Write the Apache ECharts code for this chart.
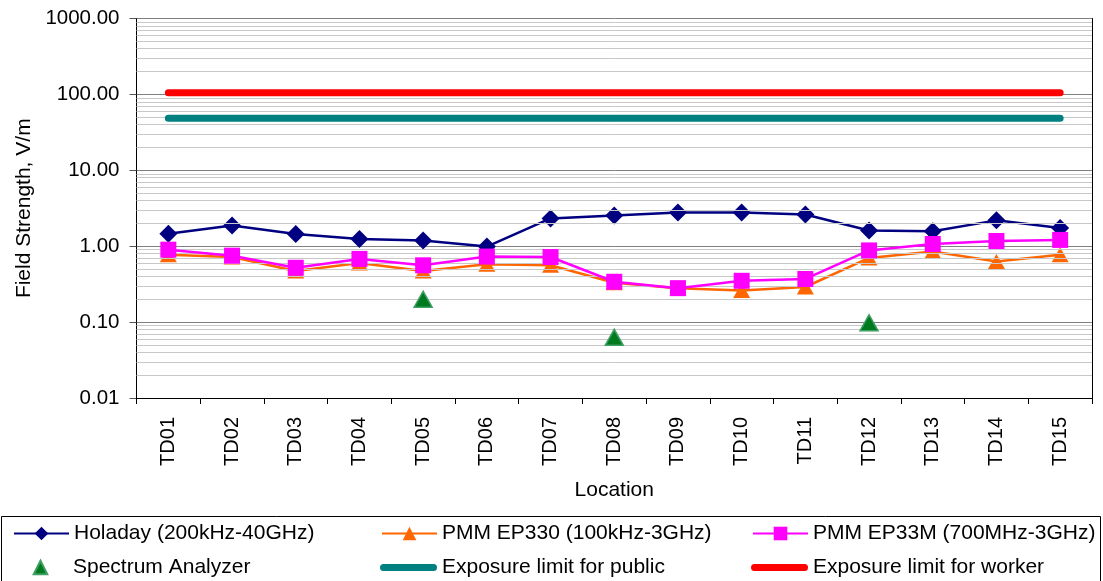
<!DOCTYPE html>
<html>
<head>
<meta charset="utf-8">
<script src="https://cdn.jsdelivr.net/npm/echarts@6/dist/echarts.min.js"></script>
<style>html,body{margin:0;padding:0;background:#fff}#c{width:1103px;height:581px}</style>
</head>
<body>
<div id="c"></div>
<script>
const categories = ['TD01','TD02','TD03','TD04','TD05','TD06','TD07','TD08','TD09','TD10','TD11','TD12','TD13','TD14','TD15'];
const holaday = [1.46,1.88,1.45,1.24,1.19,0.99,2.32,2.54,2.78,2.78,2.62,1.61,1.57,2.19,1.74];
const ep330 = [0.77,0.72,0.47,0.60,0.47,0.58,0.56,0.33,0.28,0.26,0.29,0.70,0.85,0.63,0.77];
const ep33m = [0.90,0.75,0.52,0.68,0.56,0.73,0.72,0.34,0.28,0.35,0.37,0.88,1.07,1.17,1.21];
const spectrum = [null,null,null,null,0.20,null,null,0.063,null,null,null,0.098,null,null,null];
const publicLimit = [48.6,48.6,48.6,48.6,48.6,48.6,48.6,48.6,48.6,48.6,48.6,48.6,48.6,48.6,48.6];
const workerLimit = [105,105,105,105,105,105,105,105,105,105,105,105,105,105,105];
const seriesNames = ['Holaday (200kHz-40GHz)','PMM EP330 (100kHz-3GHz)','PMM EP33M (700MHz-3GHz)','Spectrum Analyzer','Exposure limit for public','Exposure limit for worker'];
const decades = [0.01,0.1,1,10,100];
const minorSteps = [2,3,4,5,6,7,8,9];

const minorLines = [];
decades.forEach(d => minorSteps.forEach(k => minorLines.push({yAxis: +(d*k).toPrecision(3)})));

const FONT = 'Liberation Sans';
const chart = echarts.init(document.getElementById('c'), null, {renderer:'canvas'});
const legendText = {fontFamily: FONT, fontSize: 21, color: '#000'};
function legendItem(left, top, name){
  return {show:true, orient:'horizontal', left:left, top:top, padding:0,
    itemWidth:55, itemHeight:17, textStyle:legendText, selectedMode:false, data:[name]};
}
function legendLimit(left, top, name, color){
  return {show:true, orient:'horizontal', left:left, top:top, padding:0,
    itemWidth:57, itemHeight:7, itemGap:0, textStyle:legendText, selectedMode:false,
    icon:'path://M3.5,0 H53.5 A3.5,3.5 0 0 1 53.5,7 H3.5 A3.5,3.5 0 0 1 3.5,0 Z',
    data:[{name:name, itemStyle:{color:color, borderWidth:0}}]};
}
const row1 = 523, row2 = 557;
chart.setOption({
  animation:false,
  backgroundColor:'#fff',
  grid:{left:136.5, right:11, top:18.5, bottom:183, containLabel:false},
  graphic:[{type:'rect', shape:{x:1.5, y:516.5, width:1099, height:80}, style:{fill:'none', stroke:'#000', lineWidth:1}, z:-1}],
  legend:[
    legendItem(13, row1, seriesNames[0]),
    legendItem(13, row2, seriesNames[3]),
    legendItem(381, row1, seriesNames[1]),
    legendLimit(380, row2, seriesNames[4], '#008080'),
    legendItem(752, row1, seriesNames[2]),
    legendLimit(751, row2, seriesNames[5], '#FF0000')
  ],
  xAxis:{type:'category', data:categories, boundaryGap:true,
    axisLine:{lineStyle:{color:'#000', width:1}},
    axisTick:{show:true, interval:0, length:6, lineStyle:{color:'#000'}},
    axisLabel:{rotate:90, interval:0, margin:19, fontFamily:FONT, fontSize:20, color:'#000'},
    name:'Location', nameLocation:'middle', nameGap:82,
    nameTextStyle:{fontFamily:FONT, fontSize:21, color:'#000'}},
  yAxis:[{type:'log', logBase:10, min:0.01, max:1000, interval:1,
    axisLine:{show:true, lineStyle:{color:'#000', width:1}},
    axisTick:{show:true, length:7, lineStyle:{color:'#555'}},
    axisLabel:{margin:17, fontFamily:FONT, fontSize:20.5, color:'#000', formatter: v => Number(v).toFixed(2)},
    splitLine:{show:true, lineStyle:{color:'#808080', width:1}},
    minorTick:{show:false}, minorSplitLine:{show:false},
    name:'Field Strength, V/m', nameLocation:'middle', nameGap:102,
    nameTextStyle:{fontFamily:FONT, fontSize:21, color:'#000'}},
   {type:'log', logBase:10, min:0.01, max:1000, position:'right',
    axisLine:{show:true, lineStyle:{color:'#000', width:1}},
    axisTick:{show:false}, axisLabel:{show:false}, splitLine:{show:false}}],
  series:[
    {name:'minor', type:'line', data:categories.map(()=>null), silent:true, z:0,
     markLine:{silent:true, symbol:'none', label:{show:false}, animation:false,
       lineStyle:{color:'#c8c8c8', width:1, type:'solid'}, data:minorLines}},
    {name:seriesNames[0], type:'line', data:holaday, symbol:'diamond', symbolSize:18,
     lineStyle:{color:'#000080', width:2.5}, itemStyle:{color:'#000080'}, z:3},
    {name:seriesNames[1], type:'line', data:ep330, symbol:'triangle', symbolSize:[17,15],
     lineStyle:{color:'#FF6600', width:2.5}, itemStyle:{color:'#FF6600'}, z:4},
    {name:seriesNames[2], type:'line', data:ep33m, symbol:'rect', symbolSize:16,
     lineStyle:{color:'#FF00FF', width:2.5}, itemStyle:{color:'#FF00FF'}, z:5},
    {name:seriesNames[3], type:'line', data:spectrum, symbol:'triangle', symbolSize:[18,16],
     connectNulls:false, lineStyle:{width:0, opacity:0},
     itemStyle:{color:'#007A1E', borderColor:'#3F9E63', borderWidth:1.5}, z:6},
    {name:seriesNames[4], type:'line', data:publicLimit, symbol:'none',
     lineStyle:{color:'#008080', width:7, cap:'round'}, itemStyle:{color:'#008080'}, z:7},
    {name:seriesNames[5], type:'line', data:workerLimit, symbol:'none',
     lineStyle:{color:'#FF0000', width:7, cap:'round'}, itemStyle:{color:'#FF0000'}, z:8}
  ]
});
</script>
</body>
</html>
